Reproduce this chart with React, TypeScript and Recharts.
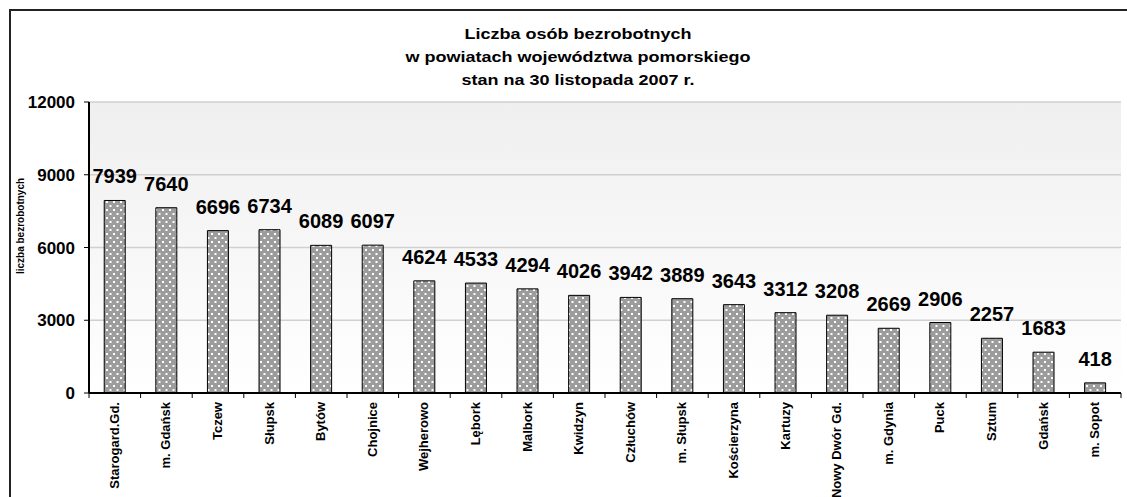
import React from "react";
import {
  BarChart,
  Bar,
  XAxis,
  YAxis,
  CartesianGrid,
  LabelList,
} from "recharts";

const powiaty = [
  "Starogard.Gd.", "m. Gdańsk", "Tczew", "Słupsk", "Bytów", "Chojnice",
  "Wejherowo", "Lębork", "Malbork", "Kwidzyn", "Człuchów", "m. Słupsk",
  "Kościerzyna", "Kartuzy", "Nowy Dwór Gd.", "m. Gdynia", "Puck", "Sztum",
  "Gdańsk", "m. Sopot",
];
const bezrobotni = [
  7939, 7640, 6696, 6734, 6089, 6097, 4624, 4533, 4294, 4026, 3942, 3889,
  3643, 3312, 3208, 2669, 2906, 2257, 1683, 418,
];
const yTicks = [0, 3000, 6000, 9000, 12000];
const titleLines = [
  "Liczba osób bezrobotnych",
  "w powiatach województwa pomorskiego",
  "stan na 30 listopada 2007 r.",
];
const yLabel = "liczba bezrobotnych";

const data = powiaty.map((name, i) => ({ name, value: bezrobotni[i] }));

const FONT = '"Liberation Sans", Arial, sans-serif';

const XTick = (props: any) => {
  const { x, y, payload } = props;
  const half = payload?.offset ?? 25.8;
  return (
    <g>
      <line x1={x - half} y1={y - 8} x2={x - half} y2={y - 3} stroke="#000" strokeWidth={1} />
      {payload.index === powiaty.length - 1 && (
        <line x1={x + half} y1={y - 8} x2={x + half} y2={y - 3} stroke="#000" strokeWidth={1} />
      )}
      <text
        x={x + 4}
        y={y + 1}
        transform={`rotate(-90 ${x + 4} ${y + 1})`}
        textAnchor="end"
        fontFamily={FONT}
        fontWeight="bold"
        fontSize={13}
        fill="#000"
      >
        {payload.value}
      </text>
    </g>
  );
};

const YTitle = () => (
  <text
    x={24}
    y={226}
    transform="rotate(-90 24 226)"
    textAnchor="middle"
    fontFamily={FONT}
    fontWeight="bold"
    fontSize={10}
    fill="#000"
  >
    {yLabel}
  </text>
);

export default function App() {
  return (
    <div style={{ position: "relative", width: 1127, height: 497, overflow: "hidden", background: "#fff" }}>
      <style>{"body{margin:0}"}</style>
      <div
        style={{
          position: "absolute",
          left: 9,
          top: 9,
          width: 1140,
          height: 520,
          border: "2px solid #222",
          boxSizing: "border-box",
        }}
      />
      <div
        style={{
          position: "absolute",
          left: 328,
          top: 22,
          width: 500,
          textAlign: "center",
          fontFamily: FONT,
          fontWeight: "bold",
          fontSize: 15,
          lineHeight: "23px",
          color: "#000",
          transform: "scaleX(1.2)",
          transformOrigin: "center",
        }}
      >
        {titleLines.map((t) => (
          <div key={t}>{t}</div>
        ))}
      </div>
      <div style={{ position: "absolute", left: 0, top: 0 }}>
        <BarChart
          width={1127}
          height={497}
          data={data}
          margin={{ top: 102, right: 6, bottom: 0, left: 0 }}
          barCategoryGap="29.5%"
        >
          <defs>
            <pattern id="dots" patternUnits="userSpaceOnUse" width="7" height="8">
              <rect width="7" height="8" fill="#9c9c9c" />
              <rect x="1" y="1" width="2" height="2" fill="#fff" />
              <rect x="4.5" y="5" width="2" height="2" fill="#fff" />
            </pattern>
            <linearGradient id="bg" x1="0" y1="0" x2="0" y2="1">
              <stop offset="0%" stopColor="#efefef" />
              <stop offset="100%" stopColor="#ffffff" />
            </linearGradient>
          </defs>
          <CartesianGrid
            vertical={false}
            stroke="#d0d0d0"
            strokeWidth={1.5}
            fill="url(#bg)"
            fillOpacity={1}
          />
          <XAxis
            dataKey="name"
            height={104}
            interval={0}
            axisLine={{ stroke: "#000", strokeWidth: 2 }}
            tickLine={false}
            tick={<XTick />}
          />
          <XAxis
            xAxisId="top"
            orientation="top"
            dataKey="name"
            height={0}
            tick={false}
            tickLine={false}
            axisLine={{ stroke: "#000", strokeWidth: 2 }}
          />
          <YAxis
            width={89}
            domain={[0, 12000]}
            ticks={yTicks}
            interval={0}
            axisLine={{ stroke: "#000", strokeWidth: 2 }}
            tickLine={{ stroke: "#000" }}
            tickSize={5}
            tickMargin={9}
            tick={{ fontFamily: FONT, fontWeight: "bold", fontSize: 17, fill: "#000" }}
            label={<YTitle />}
          />
          <YAxis
            yAxisId="right"
            orientation="right"
            width={0}
            domain={[0, 12000]}
            tick={false}
            tickLine={false}
            axisLine={{ stroke: "#000", strokeWidth: 2 }}
          />
          <Bar
            dataKey="value"
            fill="url(#dots)"
            stroke="#000"
            strokeWidth={1}
            isAnimationActive={false}
          >
            <LabelList
              dataKey="value"
              position="top"
              offset={17}
              fontFamily={FONT}
              fontWeight="bold"
              fontSize={20}
              fill="#000"
            />
          </Bar>
        </BarChart>
      </div>
    </div>
  );
}
